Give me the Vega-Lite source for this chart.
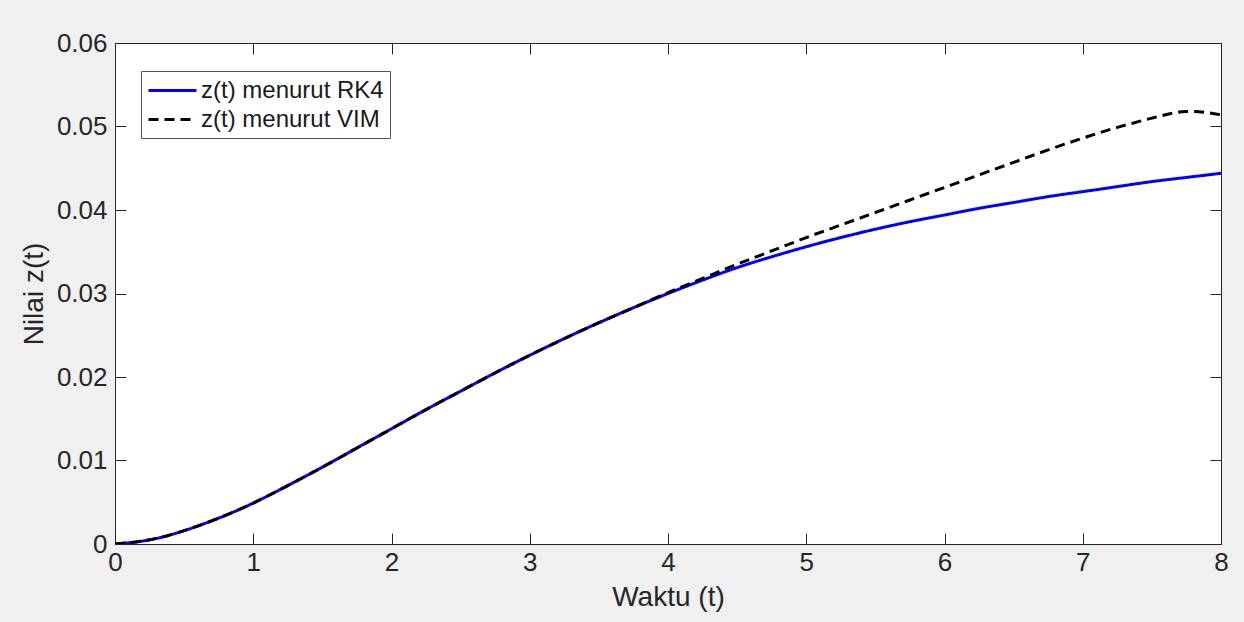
{
  "$schema": "https://vega.github.io/schema/vega-lite/v6.json",
  "width": 1106,
  "height": 501,
  "autosize": {"type": "none"},
  "padding": {"left": 115, "top": 43, "right": 23, "bottom": 78},
  "background": "#f0f0f0",
  "config": {
    "view": {"stroke": "#262626", "strokeWidth": 1, "fill": "white"},
    "font": "Liberation Sans"
  },
  "data": {
    "values": [
      {"t": 0, "z": 0, "s": "z(t) menurut RK4"},
      {"t": 0.25, "z": 0.0005, "s": "z(t) menurut RK4"},
      {"t": 0.5, "z": 0.0016, "s": "z(t) menurut RK4"},
      {"t": 0.75, "z": 0.0031, "s": "z(t) menurut RK4"},
      {"t": 1, "z": 0.0049, "s": "z(t) menurut RK4"},
      {"t": 1.25, "z": 0.0070, "s": "z(t) menurut RK4"},
      {"t": 1.5, "z": 0.0092, "s": "z(t) menurut RK4"},
      {"t": 1.75, "z": 0.0115, "s": "z(t) menurut RK4"},
      {"t": 2, "z": 0.0138, "s": "z(t) menurut RK4"},
      {"t": 2.25, "z": 0.0161, "s": "z(t) menurut RK4"},
      {"t": 2.5, "z": 0.0183, "s": "z(t) menurut RK4"},
      {"t": 2.75, "z": 0.0205, "s": "z(t) menurut RK4"},
      {"t": 3, "z": 0.0226, "s": "z(t) menurut RK4"},
      {"t": 3.25, "z": 0.0246, "s": "z(t) menurut RK4"},
      {"t": 3.5, "z": 0.0265, "s": "z(t) menurut RK4"},
      {"t": 3.75, "z": 0.0283, "s": "z(t) menurut RK4"},
      {"t": 4, "z": 0.0300, "s": "z(t) menurut RK4"},
      {"t": 4.25, "z": 0.0316, "s": "z(t) menurut RK4"},
      {"t": 4.5, "z": 0.0331, "s": "z(t) menurut RK4"},
      {"t": 4.75, "z": 0.0344, "s": "z(t) menurut RK4"},
      {"t": 5, "z": 0.0356, "s": "z(t) menurut RK4"},
      {"t": 5.25, "z": 0.0367, "s": "z(t) menurut RK4"},
      {"t": 5.5, "z": 0.0377, "s": "z(t) menurut RK4"},
      {"t": 5.75, "z": 0.0386, "s": "z(t) menurut RK4"},
      {"t": 6, "z": 0.0394, "s": "z(t) menurut RK4"},
      {"t": 6.25, "z": 0.0402, "s": "z(t) menurut RK4"},
      {"t": 6.5, "z": 0.0409, "s": "z(t) menurut RK4"},
      {"t": 6.75, "z": 0.0416, "s": "z(t) menurut RK4"},
      {"t": 7, "z": 0.0422, "s": "z(t) menurut RK4"},
      {"t": 7.25, "z": 0.0428, "s": "z(t) menurut RK4"},
      {"t": 7.5, "z": 0.0434, "s": "z(t) menurut RK4"},
      {"t": 7.75, "z": 0.0439, "s": "z(t) menurut RK4"},
      {"t": 8, "z": 0.0444, "s": "z(t) menurut RK4"},
      {"t": 0, "z": 0, "s": "z(t) menurut VIM"},
      {"t": 0.25, "z": 0.0005, "s": "z(t) menurut VIM"},
      {"t": 0.5, "z": 0.0016, "s": "z(t) menurut VIM"},
      {"t": 0.75, "z": 0.0031, "s": "z(t) menurut VIM"},
      {"t": 1, "z": 0.0049, "s": "z(t) menurut VIM"},
      {"t": 1.25, "z": 0.0070, "s": "z(t) menurut VIM"},
      {"t": 1.5, "z": 0.0092, "s": "z(t) menurut VIM"},
      {"t": 1.75, "z": 0.0115, "s": "z(t) menurut VIM"},
      {"t": 2, "z": 0.0138, "s": "z(t) menurut VIM"},
      {"t": 2.25, "z": 0.0161, "s": "z(t) menurut VIM"},
      {"t": 2.5, "z": 0.0183, "s": "z(t) menurut VIM"},
      {"t": 2.75, "z": 0.0205, "s": "z(t) menurut VIM"},
      {"t": 3, "z": 0.0226, "s": "z(t) menurut VIM"},
      {"t": 3.25, "z": 0.0246, "s": "z(t) menurut VIM"},
      {"t": 3.5, "z": 0.0265, "s": "z(t) menurut VIM"},
      {"t": 3.75, "z": 0.0283, "s": "z(t) menurut VIM"},
      {"t": 4, "z": 0.0301, "s": "z(t) menurut VIM"},
      {"t": 4.25, "z": 0.0318, "s": "z(t) menurut VIM"},
      {"t": 4.5, "z": 0.0335, "s": "z(t) menurut VIM"},
      {"t": 4.75, "z": 0.0351, "s": "z(t) menurut VIM"},
      {"t": 5, "z": 0.0367, "s": "z(t) menurut VIM"},
      {"t": 5.25, "z": 0.0382, "s": "z(t) menurut VIM"},
      {"t": 5.5, "z": 0.0397, "s": "z(t) menurut VIM"},
      {"t": 5.75, "z": 0.0412, "s": "z(t) menurut VIM"},
      {"t": 6, "z": 0.0427, "s": "z(t) menurut VIM"},
      {"t": 6.25, "z": 0.0442, "s": "z(t) menurut VIM"},
      {"t": 6.5, "z": 0.0457, "s": "z(t) menurut VIM"},
      {"t": 6.75, "z": 0.0472, "s": "z(t) menurut VIM"},
      {"t": 7, "z": 0.0486, "s": "z(t) menurut VIM"},
      {"t": 7.25, "z": 0.0499, "s": "z(t) menurut VIM"},
      {"t": 7.5, "z": 0.0510, "s": "z(t) menurut VIM"},
      {"t": 7.75, "z": 0.0518, "s": "z(t) menurut VIM"},
      {"t": 8, "z": 0.0514, "s": "z(t) menurut VIM"}
    ]
  },
  "layer": [
    {
      "mark": {"type": "line", "strokeWidth": 3, "interpolate": "natural", "clip": true},
      "encoding": {
        "x": {
          "field": "t", "type": "quantitative",
          "scale": {"domain": [0, 8], "nice": false, "zero": false},
          "axis": {
            "title": "Waktu (t)", "values": [0,1,2,3,4,5,6,7,8], "format": "d", "labelFlush": false,
            "grid": false, "tickSize": -11, "tickColor": "#262626", "domainColor": "#262626",
            "labelFont": "Liberation Sans", "labelFontSize": 26, "labelColor": "#262626", "labelPadding": 16,
            "titleFont": "Liberation Sans", "titleFontSize": 28, "titleFontWeight": "normal", "titleColor": "#262626", "titlePadding": 8
          }
        },
        "y": {
          "field": "z", "type": "quantitative",
          "scale": {"domain": [0, 0.06], "nice": false},
          "axis": {
            "title": "Nilai z(t)", "values": [0, 0.01, 0.02, 0.03, 0.04, 0.05, 0.06], "labelFlush": false,
            "labelExpr": "datum.value == 0 ? '0' : format(datum.value, '.2f')",
            "grid": false, "tickSize": -11, "tickColor": "#262626", "domainColor": "#262626",
            "labelFont": "Liberation Sans", "labelFontSize": 26, "labelColor": "#262626", "labelPadding": 19,
            "titleFont": "Liberation Sans", "titleFontSize": 28, "titleFontWeight": "normal", "titleColor": "#262626", "titlePadding": 8
          }
        },
        "color": {
          "field": "s", "type": "nominal",
          "scale": {"domain": ["z(t) menurut RK4", "z(t) menurut VIM"], "range": ["#0000ff", "#000000"]},
          "legend": {
            "title": null, "orient": "none", "legendX": 26, "legendY": 28,
            "symbolType": "M-1,0H3", "symbolSize": 576, "symbolStrokeWidth": 3, "symbolFillColor": "transparent",
            "labelFont": "Liberation Sans", "labelFontSize": 24, "labelColor": "#1a1a1a", "labelOffset": 27, "labelLimit": 0,
            "rowPadding": 3, "padding": 6, "strokeColor": "#555555", "fillColor": "white", "cornerRadius": 0
          }
        },
        "strokeDash": {
          "field": "s", "type": "nominal",
          "scale": {"domain": ["z(t) menurut RK4", "z(t) menurut VIM"], "range": [[1, 0], [10, 6]]},
          "legend": {
            "title": null, "orient": "none", "legendX": 26, "legendY": 28,
            "symbolType": "M-1,0H3", "symbolSize": 576, "symbolStrokeWidth": 3, "symbolFillColor": "transparent",
            "labelFont": "Liberation Sans", "labelFontSize": 24, "labelColor": "#1a1a1a", "labelOffset": 27, "labelLimit": 0,
            "rowPadding": 3, "padding": 6, "strokeColor": "#555555", "fillColor": "white", "cornerRadius": 0
          }
        }
      }
    },
    {
      "mark": {"type": "line", "opacity": 0},
      "encoding": {
        "x": {
          "field": "t", "type": "quantitative",
          "axis": {"orient": "top", "title": null, "labels": false, "values": [0,1,2,3,4,5,6,7,8], "grid": false, "tickSize": -11, "tickColor": "#262626", "domainColor": "#262626"}
        },
        "y": {
          "field": "z", "type": "quantitative",
          "axis": {"orient": "right", "title": null, "labels": false, "values": [0, 0.01, 0.02, 0.03, 0.04, 0.05, 0.06], "grid": false, "tickSize": -11, "tickColor": "#262626", "domainColor": "#262626"}
        }
      }
    }
  ],
  "resolve": {"axis": {"x": "independent", "y": "independent"}}
}
